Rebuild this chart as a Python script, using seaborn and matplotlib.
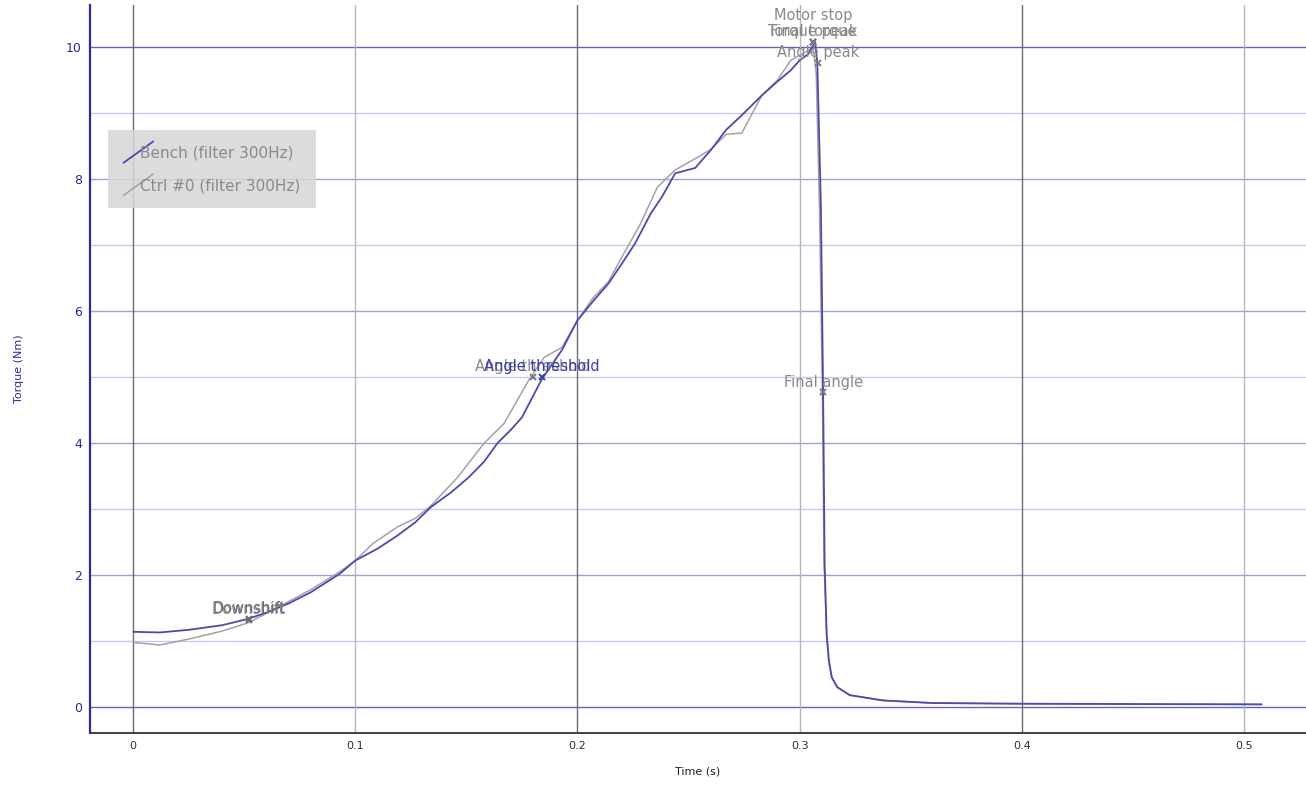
import numpy as np
import pandas as pd
import matplotlib
matplotlib.use("Agg")
import matplotlib.pyplot as plt
import seaborn as sns
from matplotlib.lines import Line2D
from matplotlib.legend_handler import HandlerBase

# torque traces (time in s, torque in Nm)
bench_time = [0, 0.012, 0.025, 0.04, 0.051, 0.06, 0.07, 0.08, 0.093, 0.10, 0.11, 0.119,
              0.127, 0.134, 0.143, 0.151, 0.158, 0.164, 0.17, 0.175, 0.184, 0.193, 0.20,
              0.207, 0.214, 0.22, 0.226, 0.233, 0.238, 0.244, 0.253, 0.26, 0.267, 0.274,
              0.283, 0.29, 0.296, 0.30, 0.304, 0.307, 0.308, 0.3096, 0.3106, 0.3113, 0.3122,
              0.3132, 0.3145, 0.317, 0.3226, 0.3375, 0.36, 0.40, 0.45, 0.508]
bench_torque = [1.14, 1.13, 1.17, 1.24, 1.33, 1.43, 1.57, 1.74, 2.02, 2.22, 2.40, 2.60,
                2.80, 3.03, 3.25, 3.48, 3.72, 4.00, 4.20, 4.39, 4.97, 5.41, 5.86,
                6.15, 6.42, 6.72, 7.03, 7.48, 7.73, 8.09, 8.17, 8.44, 8.75, 8.97,
                9.27, 9.48, 9.65, 9.80, 9.90, 10.08, 9.75, 7.60, 4.77, 2.15, 1.10,
                0.70, 0.45, 0.30, 0.18, 0.10, 0.06, 0.05, 0.045, 0.04]

ctrl_time = [0, 0.012, 0.025, 0.04, 0.052, 0.06, 0.07, 0.08, 0.093, 0.10, 0.108, 0.119,
             0.127, 0.134, 0.146, 0.158, 0.167, 0.178, 0.185, 0.193, 0.20, 0.207, 0.214,
             0.22, 0.228, 0.236, 0.244, 0.254, 0.26, 0.267, 0.274, 0.283, 0.29, 0.296,
             0.30, 0.304, 0.306, 0.3075, 0.309, 0.3103, 0.311, 0.3122, 0.3132, 0.3145,
             0.317, 0.3226, 0.3375, 0.36, 0.40, 0.45, 0.508]
ctrl_torque = [0.98, 0.94, 1.03, 1.15, 1.28, 1.42, 1.60, 1.78, 2.05, 2.22, 2.48, 2.73,
               2.86, 3.05, 3.48, 4.00, 4.30, 4.95, 5.30, 5.45, 5.86, 6.20, 6.45,
               6.82, 7.30, 7.88, 8.14, 8.33, 8.45, 8.68, 8.70, 9.27, 9.50, 9.80,
               9.88, 9.95, 10.02, 9.60, 7.50, 4.70, 2.20, 1.10, 0.70, 0.45,
               0.30, 0.18, 0.10, 0.06, 0.05, 0.045, 0.04]

series_names = ["Bench (filter 300Hz)", "Ctrl #0 (filter 300Hz)"]

# tightening events
ev_label = ["Downshift", "Downshift", "Angle threshold", "Angle threshold", "Torque peak",
            "Final torque", "Motor stop", "Angle peak", "Final angle"]
ev_series = ["Ctrl", "Ctrl2", "Ctrl", "Bench", "Ctrl", "Ctrl", "Ctrl", "Ctrl", "Ctrl"]
ev_time = [0.052, 0.0523, 0.180, 0.184, 0.306, 0.306, 0.306, 0.3083, 0.3106]
ev_torque = [1.32, 1.33, 5.00, 5.00, 10.08, 10.08, 10.08, 9.76, 4.77]

x_ticks = [0, 0.1, 0.2, 0.3, 0.4, 0.5]
y_ticks = [0, 2, 4, 6, 8, 10]

BLUE = "#4b4bab"
GREY = "#a2a2aa"
text_colors = {"Bench": "#3c3ca6", "Ctrl": "#8a8a8a", "Ctrl2": "#707070"}
marker_colors = {"Bench": "#3c3ca6", "Ctrl": "#7a7a7a", "Ctrl2": "#6a6a6a"}
label_dy = {"Motor stop": 12}


class SlashHandler(HandlerBase):
    # legend sample drawn as a short diagonal stroke
    def create_artists(self, legend, orig_handle, xdescent, ydescent, width, height, fontsize, trans):
        line = Line2D([0, width], [-0.5 * height, 1.5 * height],
                      color=orig_handle.get_color(), lw=orig_handle.get_linewidth())
        line.set_transform(trans)
        return [line]


df = pd.concat([
    pd.DataFrame({"time": bench_time, "torque": bench_torque, "series": series_names[0]}),
    pd.DataFrame({"time": ctrl_time, "torque": ctrl_torque, "series": series_names[1]}),
])

sns.set_style("white")
plt.rcParams["font.family"] = ["DejaVu Sans"]

fig = plt.figure(figsize=(13.06, 7.87), dpi=100)
ax = fig.add_axes([0.069, 0.0686, 0.931, 0.925])

sns.lineplot(data=df[df.series == series_names[1]], x="time", y="torque", color=GREY,
             lw=1.1, ax=ax, legend=False, zorder=3)
sns.lineplot(data=df[df.series == series_names[0]], x="time", y="torque", color=BLUE,
             lw=1.3, ax=ax, legend=False, zorder=4)

ax.set_xlim(-0.0194, 0.528)
ax.set_ylim(-0.394, 10.64)

# grid: horizontal lines every 1 Nm, vertical every 0.1 s with alternating shades
for v in range(0, 11):
    if v in (0, 10):
        c = "#6464b8"
    elif v % 2 == 0:
        c = "#a0a0d8"
    else:
        c = "#cacaec"
    ax.axhline(v, color=c, lw=1.0, zorder=1)
for i, t in enumerate(x_ticks):
    ax.axvline(t, color="#6c6c78" if i % 2 == 0 else "#b4b4bc", lw=1.0, zorder=1)

# events
for lab, s, t, v in zip(ev_label, ev_series, ev_time, ev_torque):
    ax.plot(t, v, marker="x", ms=5, mew=1.4, color=marker_colors[s], zorder=5)
    ax.annotate(lab, (t, v), xytext=(0, 2 + label_dy.get(lab, 0)), textcoords="offset points",
                ha="center", va="bottom", fontsize=10.5, color=text_colors[s], zorder=6)

ax.set_xticks(x_ticks)
ax.set_xticklabels([str(t) for t in x_ticks], fontsize=8, color="#303030")
ax.set_yticks(y_ticks)
ax.set_yticklabels([str(t) for t in y_ticks], fontsize=9, color="#2a2a8a")
ax.tick_params(axis="both", length=0)
ax.tick_params(axis="x", pad=6)
ax.tick_params(axis="y", pad=6)

ax.set_xlabel("Time (s)", fontsize=8, color="#202020", labelpad=11)
ax.set_ylabel("Torque (Nm)", fontsize=8, color="#2a2a9a", labelpad=30)

for side in ("top", "right"):
    ax.spines[side].set_visible(False)
ax.spines["left"].set_color("#2a2a9a")
ax.spines["left"].set_linewidth(1.6)
ax.spines["bottom"].set_color("#404040")
ax.spines["bottom"].set_linewidth(1.4)

handles = [Line2D([], [], color=BLUE, lw=1.3), Line2D([], [], color=GREY, lw=1.1)]
leg = ax.legend(handles, series_names, handler_map={Line2D: SlashHandler()},
                loc="upper left", bbox_to_anchor=(0.0148, 0.828), fontsize=11,
                labelcolor="#8a8a8a", frameon=True, fancybox=False, framealpha=0.85,
                facecolor="#d6d6d6", edgecolor="none", handlelength=1.95,
                handletextpad=-0.85, labelspacing=1.15, borderpad=1.0, borderaxespad=0)

fig.savefig("out.png", dpi=100)
